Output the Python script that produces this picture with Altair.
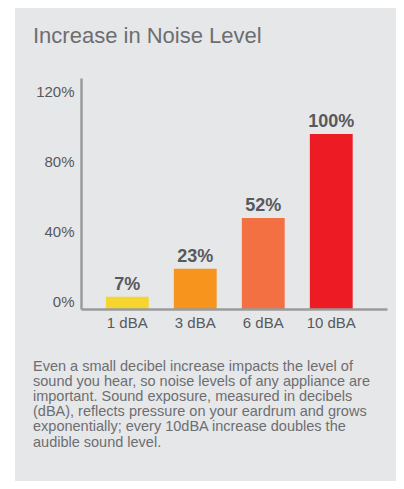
import altair as alt
import pandas as pd

categories = ["1 dBA", "3 dBA", "6 dBA", "10 dBA"]
values = [7, 23, 52, 100]
value_labels = ["7%", "23%", "52%", "100%"]
bar_colors = ["#f6d52f", "#f7941d", "#f37042", "#ed1c24"]
y_ticks = [0, 40, 80, 120]
title_text = "Increase in Noise Level"
description_lines = [
    "Even a small decibel increase impacts the level of",
    "sound you hear, so noise levels of any appliance are",
    "important. Sound exposure, measured in decibels",
    "(dBA), reflects pressure on your eardrum and grows",
    "exponentially; every 10dBA increase doubles the",
    "audible sound level.",
]

FONT = "Liberation Sans"
df = pd.DataFrame({"cat": categories, "val": values, "lab": value_labels})
one = pd.DataFrame({"k": [0]})

panel = alt.Chart(one).mark_rect(color="#e6e7e9").encode(
    x=alt.value(-66), x2=alt.value(315), y=alt.value(-70), y2=alt.value(403)
)

xenc = alt.X(
    "cat:N",
    sort=categories,
    scale=alt.Scale(paddingInner=0.37, paddingOuter=0.435, align=0.42),
    axis=alt.Axis(
        title=None, labelAngle=0, ticks=False, domainColor="#9a9b9d", domainWidth=2.5,
        labelFont=FONT, labelFontSize=15, labelColor="#58595b", labelPadding=6,
        zindex=1,
    ),
)
yenc = alt.Y(
    "val:Q",
    scale=alt.Scale(domain=[0, 132], nice=False),
    axis=alt.Axis(
        title=None, values=y_ticks, grid=False, ticks=False, domainColor="#9a9b9d",
        domainWidth=2.5, labelFont=FONT, labelFontSize=15, labelColor="#58595b",
        labelPadding=7, labelOffset=-8, labelExpr="datum.value + '%'", zindex=1,
    ),
)

bars = alt.Chart(df).mark_bar().encode(
    x=xenc,
    y=yenc,
    color=alt.Color("cat:N", sort=categories,
                    scale=alt.Scale(domain=categories, range=bar_colors), legend=None),
)

labels = alt.Chart(df).mark_text(
    font=FONT, fontSize=18, fontWeight="bold", color="#58595b",
    baseline="alphabetic", dy=-7,
).encode(x=alt.X("cat:N", sort=categories), y="val:Q", text="lab:N")

title = alt.Chart(one).mark_text(
    font=FONT, fontSize=22, color="#6d6e71", align="left", baseline="alphabetic"
).encode(x=alt.value(-48), y=alt.value(-35), text=alt.value(title_text))

desc = alt.Chart(one).mark_text(
    font=FONT, fontSize=14.5, color="#6d6e71", align="left", baseline="alphabetic",
    lineHeight=15.2,
).encode(x=alt.value(-48), y=alt.value(292.5), text=alt.value(description_lines))

chart = alt.layer(panel, bars, labels, title, desc).properties(
    width=306, height=231,
    autosize=alt.AutoSizeParams(type="none"),
    padding={"left": 73, "top": 70, "right": 9, "bottom": 172},
    background="white",
).configure_view(stroke=None)

chart.save("out.html", embed_options={"renderer": "svg", "actions": False})
